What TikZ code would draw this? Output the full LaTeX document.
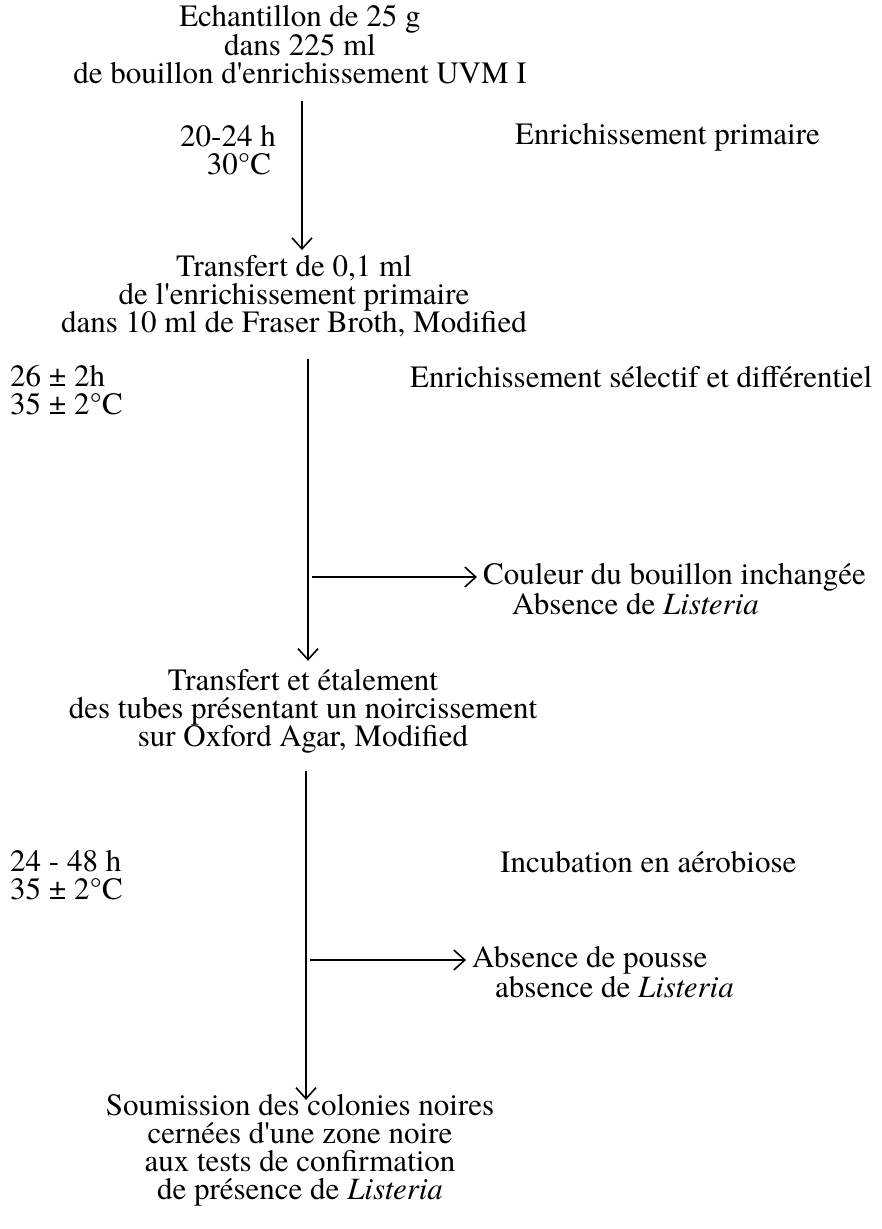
\documentclass[tikz,border=0pt]{standalone}
\usepackage{fontspec}
\setmainfont{texgyretermes}[Extension=.otf, UprightFont=*-regular, ItalicFont=*-italic, BoldFont=*-bold, BoldItalicFont=*-bolditalic]
\usetikzlibrary{arrows.meta,calc}
\begin{document}
\begin{tikzpicture}[x=1pt,y=-1pt,
  txt/.style={inner sep=0pt, align=center, font=\fontsize{31}{28}\selectfont},
  ltxt/.style={inner sep=0pt, align=left, anchor=west, font=\fontsize{31}{28}\selectfont},
  flow/.style={line width=1.6pt, -{Straight Barb[length=11pt,width=20pt,line width=1.6pt]}},
]
\useasboundingbox[fill=white] (0,0) rectangle (882,1229);

% main sequence of steps
\node[txt] (s1) at (300,45) {Echantillon de 25 g\\dans 225 ml\\de bouillon d\textquotesingle enrichissement UVM I};
\node[txt] (s2) at (294,296) {Transfert de 0,1 ml\\de l\textquotesingle enrichissement primaire\\dans 10 ml de Fraser Broth, Modified};
\node[txt] (s3) at (303,711) {Transfert et étalement\\des tubes présentant un noircissement\\sur Oxford Agar, Modified};
\node[txt] (s4) at (300,1150) {Soumission des colonies noires\\cernées d\textquotesingle une zone noire\\aux tests de confirmation\\de présence de \textit{Listeria}};

% incubation conditions
\node[txt] (t1) at (228,150) {20-24 h\\\hspace*{22pt}30°C};
\node[ltxt] (t2) at (10,390) {26 ± 2h\\35 ± 2°C};
\node[ltxt] (t3) at (10,875) {24 - 48 h\\35 ± 2°C};

% stage names
\node[ltxt] (e1) at (515,137) {Enrichissement primaire};
\node[ltxt] (e2) at (410,377) {Enrichissement sélectif et différentiel};
\node[ltxt] (e3) at (500,862) {Incubation en aérobiose};

% negative outcomes
\node[ltxt] (c1a) at (483,577) {Couleur du bouillon inchangée};
\node[ltxt] (c1b) at (512,604) {Absence de \textit{Listeria}};
\node[ltxt] (c2a) at (472,960) {Absence de pousse};
\node[ltxt] (c2b) at (495,987) {absence de \textit{Listeria}};

% connectors
\draw[flow] ([xshift=2pt,yshift=-16pt]s1.south) -- ([xshift=2pt,yshift=5pt]s1.south |- s2.north);

\coordinate (v2a) at ([xshift=14pt,yshift=-22pt]s2.south);
\coordinate (v2b) at ([yshift=8pt]v2a |- s3.north);
\draw[flow] (v2a) -- (v2b);
\draw[flow] ([xshift=4pt]v2a |- c1a.west) -- ([xshift=-6pt]c1a.west);

\coordinate (v3a) at ([xshift=3pt,yshift=-18pt]s3.south);
\coordinate (v3b) at ([yshift=-6pt]v3a |- s4.north);
\draw[flow] (v3a) -- (v3b);
\draw[flow] ([xshift=4pt]v3a |- c2a.west) -- ([xshift=-6pt]c2a.west);
\end{tikzpicture}
\end{document}
